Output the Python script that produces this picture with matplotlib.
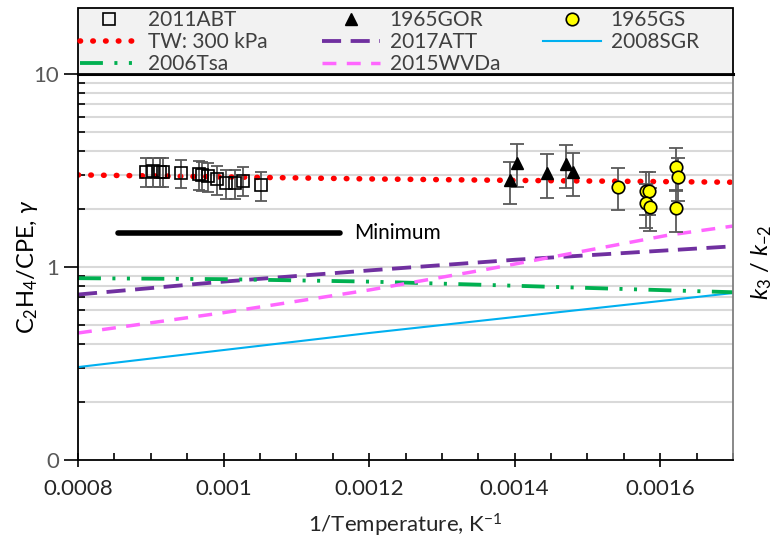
import numpy as np
import matplotlib
matplotlib.use("Agg")
import matplotlib.pyplot as plt
from matplotlib.patches import Rectangle
from matplotlib.ticker import FixedLocator, FixedFormatter, LogLocator, NullFormatter

plt.rcParams['font.family'] = ['Lato', 'DejaVu Sans']
plt.rcParams['mathtext.fontset'] = 'custom'
plt.rcParams['mathtext.rm'] = 'Lato'
plt.rcParams['mathtext.it'] = 'Lato:italic'

# 2011ABT (open squares)
abt_x = [0.000894, 0.000903, 0.000912, 0.000917, 0.000941, 0.000966, 0.000970,
         0.000978, 0.000991, 0.001003, 0.001016, 0.001027, 0.001052]
abt_y = [3.12, 3.15, 3.12, 3.12, 3.08, 3.03, 3.00, 2.96, 2.85, 2.72, 2.72, 2.80, 2.66]
abt_err = [0.53, 0.54, 0.53, 0.53, 0.52, 0.52, 0.51, 0.50, 0.48, 0.46, 0.46, 0.48, 0.45]

# 1965GOR (triangles)
gor_x = [0.001393, 0.001403, 0.001444, 0.001470, 0.001480]
gor_y = [2.82, 3.47, 3.06, 3.42, 3.12]
gor_err = [0.70, 0.86, 0.78, 0.85, 0.78]

# 1965GS (yellow circles)
gs_x = [0.001542, 0.001581, 0.001585, 0.001581, 0.001586, 0.001622, 0.001625, 0.001622]
gs_y = [2.61, 2.49, 2.49, 2.14, 2.05, 3.31, 2.94, 2.01]
gs_err = [0.63, 0.62, 0.62, 0.54, 0.51, 0.83, 0.74, 0.50]

# model lines
tw_x = [0.0008, 0.0010, 0.0012, 0.0014, 0.0017]
tw_y = [3.00, 2.93, 2.86, 2.81, 2.75]

att_x = [0.0008, 0.0010, 0.0012, 0.0014, 0.0017]
att_y = [0.72, 0.84, 0.96, 1.09, 1.28]

sgr_x = [0.0008, 0.0012, 0.0017]
sgr_y = [0.303, 0.455, 0.733]

tsa_x = [0.0008, 0.0010, 0.0012, 0.00135, 0.0017]
tsa_y = [0.875, 0.865, 0.84, 0.81, 0.74]

wvda_x = [0.0008, 0.0010, 0.0012, 0.00136, 0.00161, 0.0017]
wvda_y = [0.455, 0.58, 0.76, 0.97, 1.46, 1.63]

min_x = [0.000855, 0.00116]
min_y = [1.5, 1.5]

xticks = [0.0008, 0.001, 0.0012, 0.0014, 0.0016]
xtick_labels = ['0.0008', '0.001', '0.0012', '0.0014', '0.0016']
yticks = [0.1, 1, 10]
ytick_labels = ['0', '1', '10']

W, H = 775, 546
fig = plt.figure(figsize=(7.75, 5.46), dpi=100)
ax = fig.add_axes([78/W, 1-460/H, (733-78)/W, (460-74)/H])

ax.set_yscale('log')
ax.set_xlim(0.0008, 0.0017)
ax.set_ylim(0.1, 10)

# gridlines
for g in [0.2, 0.3, 0.4, 0.5, 0.6, 0.7, 0.8, 0.9, 1, 2, 3, 4, 5, 6, 7, 8, 9]:
    ax.axhline(g, color='#d9d9d9', linewidth=1.5, zorder=0)

tw, = ax.plot(tw_x, tw_y, color='#ff0000', linestyle=(0, (0.1, 2.2)), dash_capstyle='round',
              linewidth=4, label='TW: 300 kPa')
att, = ax.plot(att_x, att_y, color='#7030a0', linestyle=(0, (5, 2.5)), linewidth=2.75, label='2017ATT')
sgr, = ax.plot(sgr_x, sgr_y, color='#00b0f0', linewidth=1.5, label='2008SGR')
tsa, = ax.plot(tsa_x, tsa_y, color='#00b050', linestyle=(0, (6, 3, 0.8, 3, 0.8, 3)), linewidth=2.75,
               label='2006Tsa')
wvda, = ax.plot(wvda_x, wvda_y, color='#ff66ff', linestyle=(0, (4, 3)), linewidth=2.5, label='2015WVDa')

ax.errorbar(abt_x, abt_y, yerr=abt_err, fmt='none', ecolor='#595959', elinewidth=1.3, capsize=4,
            capthick=1.3, zorder=3)
ax.errorbar(gor_x, gor_y, yerr=gor_err, fmt='none', ecolor='#595959', elinewidth=1.3, capsize=5,
            capthick=1.3, zorder=3)
ax.errorbar(gs_x, gs_y, yerr=gs_err, fmt='none', ecolor='#595959', elinewidth=1.3, capsize=5,
            capthick=1.3, zorder=3)
abt, = ax.plot(abt_x, abt_y, 's', markerfacecolor='none', markeredgecolor='black', markersize=8.5,
               markeredgewidth=1.2, linestyle='none', zorder=4, label='2011ABT')
gor, = ax.plot(gor_x, gor_y, '^', color='black', markersize=9, linestyle='none', zorder=4,
               label='1965GOR')
gs, = ax.plot(gs_x, gs_y, 'o', markerfacecolor='#ffff00', markeredgecolor='black', markersize=9,
              markeredgewidth=1.2, linestyle='none', zorder=4, label='1965GS')

ax.plot(min_x, min_y, color='black', linewidth=4, solid_capstyle='round')
ax.text(0.00118, 1.5, 'Minimum', fontsize=15, va='center', ha='left', color='black')

# axes styling
ax.xaxis.set_major_locator(FixedLocator(xticks))
ax.xaxis.set_major_formatter(FixedFormatter(xtick_labels))
ax.xaxis.set_minor_locator(FixedLocator(np.arange(0.0008, 0.00171, 0.00005)))
ax.yaxis.set_major_locator(FixedLocator(yticks))
ax.yaxis.set_major_formatter(FixedFormatter(ytick_labels))
ax.yaxis.set_minor_locator(LogLocator(base=10, subs=np.arange(2, 10)))
ax.yaxis.set_minor_formatter(NullFormatter())

ax.tick_params(axis='x', which='major', direction='inout', length=10, width=1.2, labelsize=16,
               labelcolor='#262626', pad=9)
ax.tick_params(axis='x', which='minor', direction='in', length=5, width=1.2)
ax.tick_params(axis='y', which='major', direction='out', length=10, width=1.2, labelsize=16,
               labelcolor='#595959')
ax.tick_params(axis='y', which='minor', direction='in', length=5, width=1.2)

ax.spines['left'].set_linewidth(1.3)
ax.spines['bottom'].set_linewidth(1.3)
ax.spines['top'].set_linewidth(2.2)
ax.spines['right'].set_color('#7f7f7f')
ax.spines['right'].set_linewidth(1.3)

ax.set_xlabel('1/Temperature, K$^{\\mathrm{-1}}$', fontsize=16, color='#262626', labelpad=9)
ax.set_ylabel('C$_\\mathrm{2}$H$_\\mathrm{4}$/CPE, $\\gamma$', fontsize=17, color='black')
ax.yaxis.set_label_coords((40 - 78) / (733 - 78), 0.5)
fig.text(762/W, 1-262/H, '$k_\\mathrm{3}$ / $k_\\mathrm{-2}$', rotation=90, fontsize=17,
         ha='center', va='center')

# legend sits above the axes in a grey box, three columns placed by hand
fig.patches.append(Rectangle((78/W, 1-74/H), (733-78)/W, 66/H, transform=fig.transFigure,
                             facecolor='#f2f2f2', edgecolor='black', linewidth=1.3, zorder=0))
columns = [([abt, tw, tsa], 80), ([gor, att, wvda], 322), ([gs, sgr], 543)]
for col_handles, x0 in columns:
    leg = fig.legend(col_handles, [h.get_label() for h in col_handles], loc='upper left',
                     bbox_to_anchor=(x0/W, 1-10/H), frameon=False, fontsize=15,
                     handlelength=2.8, labelspacing=0.1, handletextpad=0.45, borderpad=0,
                     borderaxespad=0, handleheight=0.6)
    for t in leg.get_texts():
        t.set_color('#404040')

fig.savefig('out.png', dpi=100)
